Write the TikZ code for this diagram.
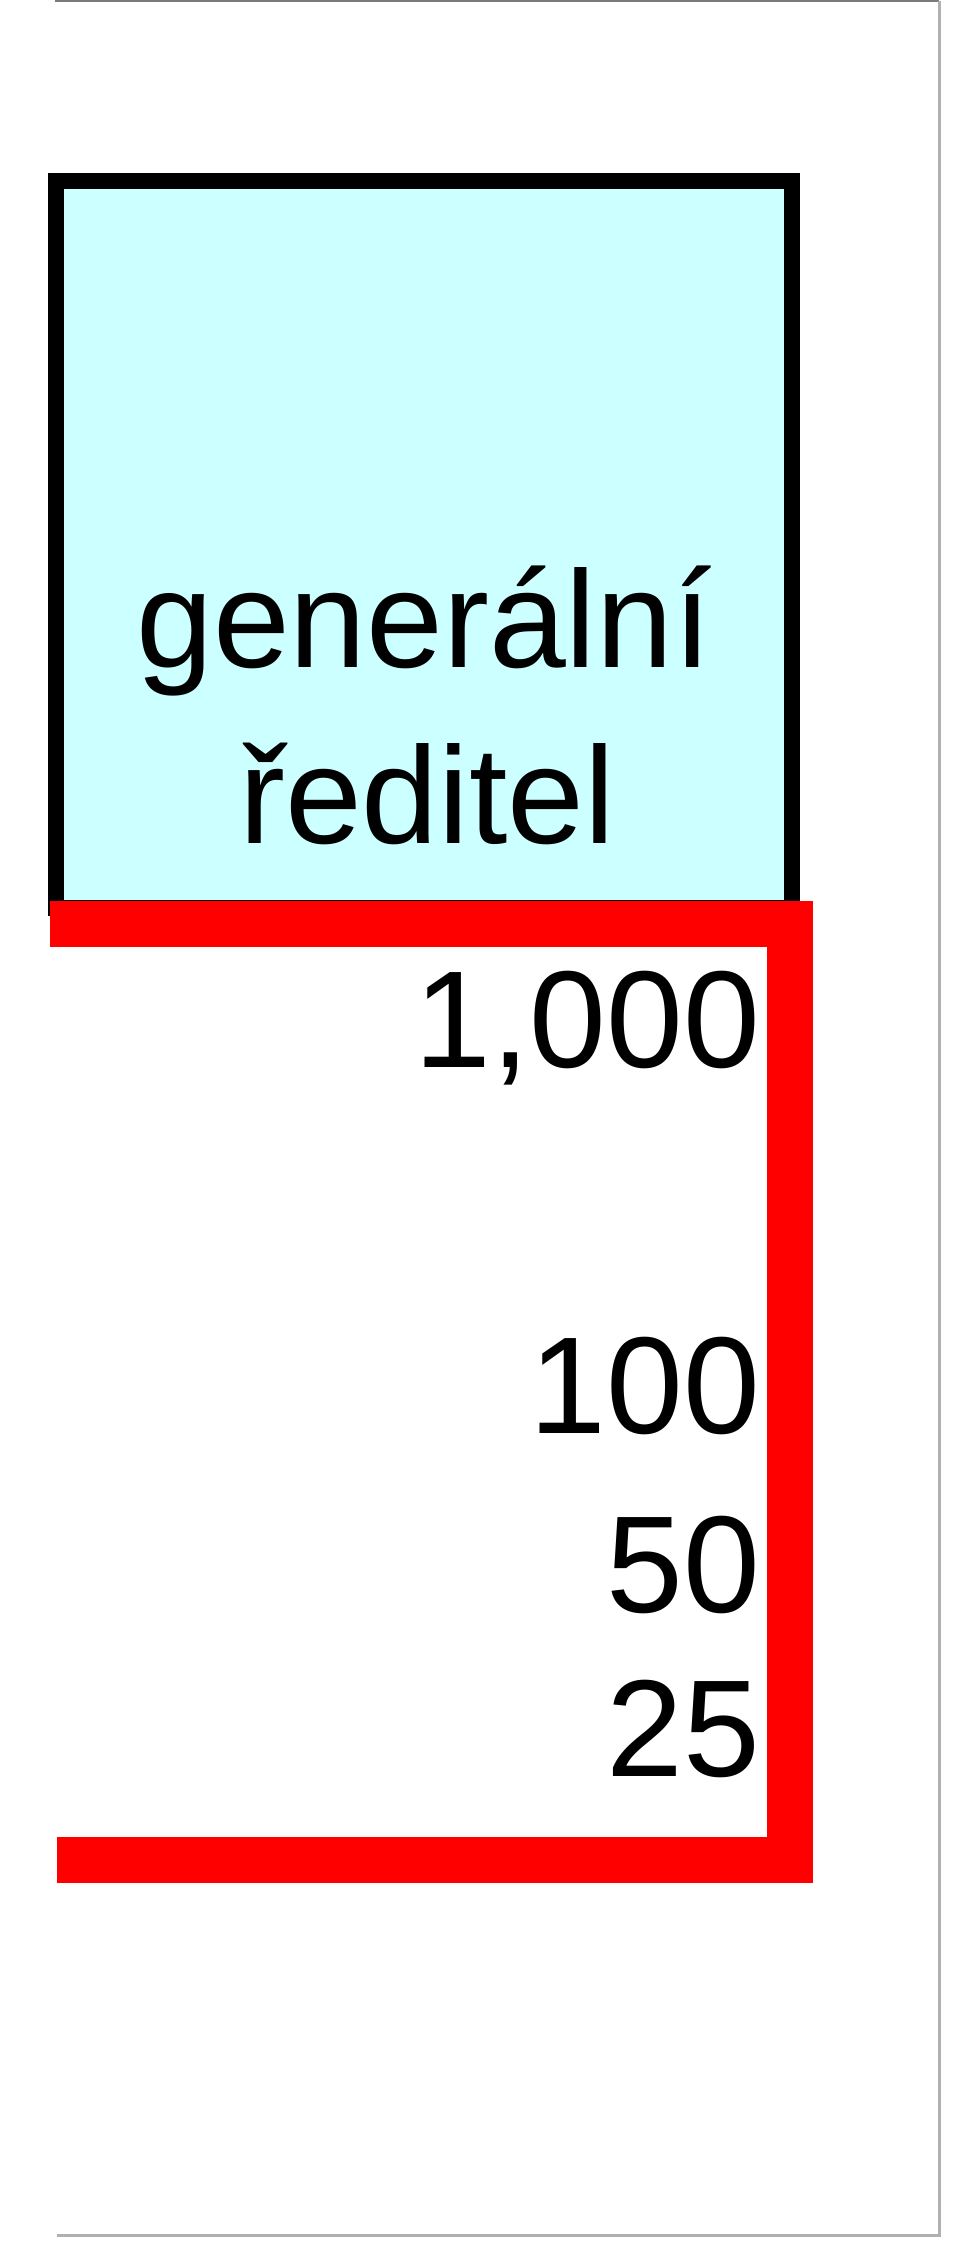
\documentclass[tikz,border=0pt]{standalone}
\usepackage{fontspec}
\setmainfont{Liberation Sans}
\usetikzlibrary{positioning}
\definecolor{boxcyan}{HTML}{CCFFFF}
\definecolor{barred}{HTML}{FF0000}
\definecolor{framedark}{HTML}{7A7A7A}
\definecolor{framelight}{HTML}{B0B0B0}

\begin{document}
\begin{tikzpicture}[x=0.5pt, y=-0.5pt,
    every node/.style={inner sep=0pt, outer sep=0pt, font=\fontsize{69pt}{88pt}\selectfont},
    rolebox/.style={draw=black, fill=boxcyan, line width=8pt, minimum width=368pt, minimum height=363.5pt},
    rolename/.style={anchor=base},
    value/.style={anchor=base east},
    redline/.style={draw=barred, line width=23pt, line join=miter},
    frameline/.style={line width=1.5pt}]
  \useasboundingbox (0,0) rectangle (960,2241);

  % page frame
  \draw[frameline, framedark] (55,1) -- (939,1);
  \draw[frameline, framelight] (939,1) -- (939,2235) -- (57,2235);

  % box
  \node[rolebox] (reditel) at (424,544.5) {};
  \node[rolename] (gen) at (424,667) {generální};
  \node[rolename] (red) at (427,843) {ředitel};

  % red bracket
  \coordinate (horni) at (50,924);
  \coordinate (roh) at (790,924);
  \coordinate (dolni) at (57,1860);
  \draw[redline] (horni) -- (roh) |- (dolni);

  % values
  \node[value] (v1000) at (760,1067) {1,000};
  \node[value] (v100) at (760,1433) {100};
  \node[value] (v50) at (760,1612) {50};
  \node[value] (v25) at (760,1776) {25};
\end{tikzpicture}
\end{document}
